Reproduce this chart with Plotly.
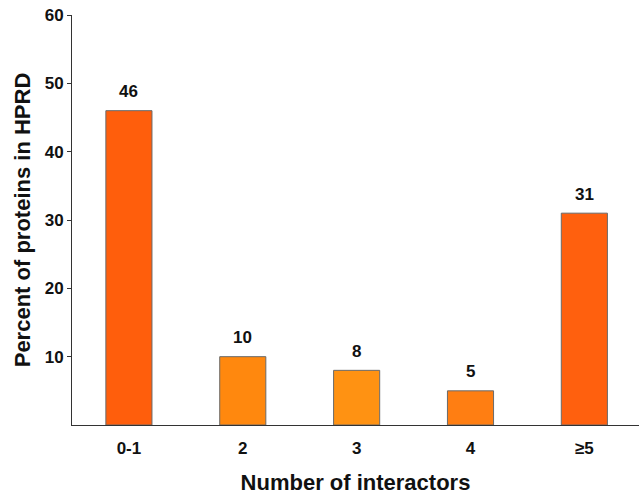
import plotly.graph_objects as go

categories = ["0-1", "2", "3", "4", "≥5"]
percent = [46, 10, 8, 5, 31]
bar_colors = ["#FF5E0C", "#FF880E", "#FF9212", "#FF7E12", "#FF600E"]
y_ticks = [10, 20, 30, 40, 50, 60]

FONT = "Liberation Sans, Arial, sans-serif"
INK = "#111111"

x_pos = list(range(len(categories)))

fig = go.Figure()
fig.add_trace(go.Bar(
    x=x_pos,
    y=percent,
    width=0.405,
    marker=dict(color=bar_colors, line=dict(color="#6a6a6a", width=1)),
    hoverinfo="skip",
))

# value labels above each bar
for xi, v in zip(x_pos, percent):
    fig.add_annotation(
        x=xi, y=v, text=f"<b>{v}</b>", showarrow=False,
        xanchor="center", yanchor="middle", yshift=19,
        font=dict(family=FONT, size=17, color=INK),
    )

fig.update_layout(
    width=639, height=495,
    margin=dict(l=72, r=0, t=15, b=70),
    paper_bgcolor="white", plot_bgcolor="white",
    showlegend=False,
    font=dict(family=FONT, color=INK),
)

fig.update_xaxes(
    range=[-0.5, 4.48],
    tickmode="array",
    tickvals=x_pos,
    ticktext=[f"<b>{c}</b>" for c in categories],
    tickfont=dict(family=FONT, size=17, color=INK),
    ticks="", ticklabelstandoff=8,
    showline=True, linecolor="#333333", linewidth=1,
    showgrid=False, zeroline=False,
    title=dict(text="<b>Number of interactors</b>",
               font=dict(family=FONT, size=22, color=INK), standoff=17),
)

fig.update_yaxes(
    range=[0, 60],
    tickmode="array",
    tickvals=y_ticks,
    ticktext=[f"<b>{t}</b>" for t in y_ticks],
    tickfont=dict(family=FONT, size=17, color=INK),
    ticks="outside", ticklen=4, tickcolor="#333333",
    ticklabelstandoff=0,
    showline=True, linecolor="#333333", linewidth=1,
    showgrid=False, zeroline=False,
    title=dict(text="<b>Percent of proteins in HPRD</b>",
               font=dict(family=FONT, size=22, color=INK), standoff=7),
)

fig.write_html("out.html")
